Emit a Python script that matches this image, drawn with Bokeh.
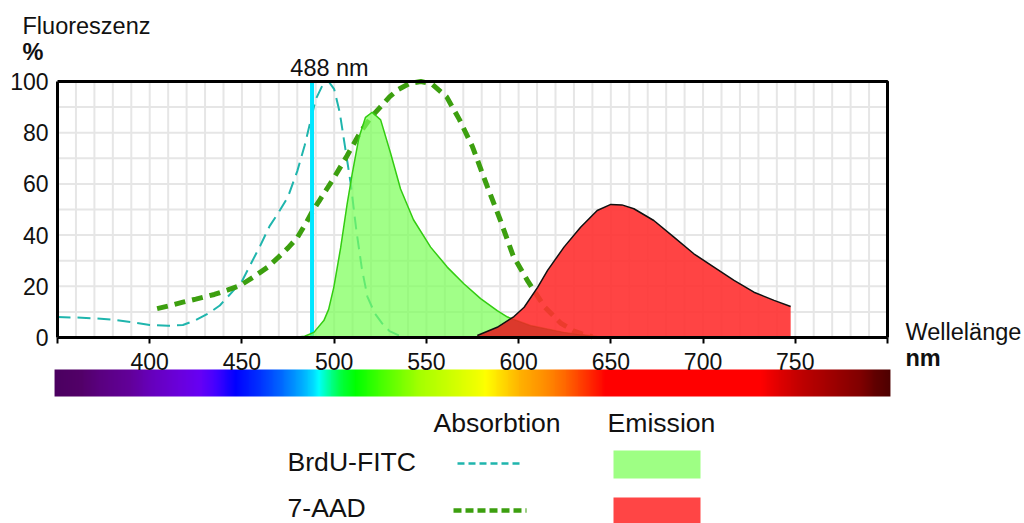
import numpy as np
from bokeh.plotting import figure
from bokeh.models import Range1d, FixedTicker, Label, LinearAxis
from bokeh.core.properties import value
from bokeh.embed import file_html
from bokeh.resources import INLINE

# ---------------- data ----------------
fitc_abs_nm = [350, 360, 370, 380, 390, 400, 410, 418, 425, 432, 438, 445, 450, 455, 460, 465,
               470, 475, 480, 484, 487, 490, 494, 497, 500, 503, 506, 509, 512, 515, 518, 522,
               526, 530, 535, 540]
fitc_abs_val = [8.0, 7.8, 7.5, 7.0, 6.0, 4.9, 4.6, 4.9, 6.8, 9.5, 12.5, 18, 22, 29, 36, 43.5,
                49, 55, 65, 75, 84, 93, 99, 100, 97, 88, 74, 60, 42, 27, 16, 9.5,
                5.5, 2.5, 0.8, 0]

aad_abs_nm = [404, 410, 418, 425, 435, 442, 449, 456, 464, 470, 475, 480, 485, 488, 492, 496,
              500, 507, 514, 520, 525, 530, 535, 541, 547, 553, 561, 568, 575, 583, 590, 597,
              605, 614, 623, 630, 634, 640]
aad_abs_val = [11.3, 12.3, 13.8, 15, 16.8, 18.5, 20.3, 23.5, 27.5, 31.5, 35, 39, 45, 49, 53.5, 58,
               62.5, 71, 80, 86, 90, 94, 97, 99.3, 100, 99, 94, 85, 74.5, 59, 46, 32,
               22, 12, 5.5, 2.5, 1.5, 0.3]

fitc_em_nm = [478, 484, 489, 494.4, 497, 499.8, 503.5, 507, 509.8, 513.4, 517, 520.6, 525.2,
              530.6, 536, 543, 552.3, 561.3, 570.3, 579.4, 588.4, 594, 606.5, 624.5, 642.7, 650]
fitc_em_val = [0, 0.5, 2, 6.6, 11, 19.6, 35, 52, 64, 78, 86, 88, 85,
               72, 58, 46, 35.3, 27.5, 21, 15.2, 10.5, 8, 4.7, 2, 0.4, 0]

aad_em_nm = [577.6, 588.4, 597.5, 603, 610.3, 615.7, 624.6, 633.6, 642.6, 650, 656, 662.5,
             673.3, 684.2, 695, 705.9, 716.8, 727.6, 738.5, 747.5]
aad_em_val = [0.8, 4, 8.2, 11.8, 19.6, 26.2, 35.3, 43.1, 49.6, 52, 51.8, 50.3,
              45.7, 39.2, 32.7, 27.5, 22.3, 17.7, 14.5, 12.1]

laser_nm = 488

x_ticks = [350, 400, 450, 500, 550, 600, 650, 700, 750, 800]
x_tick_labels = ["", "400", "450", "500", "550", "600", "650", "700", "750", ""]
y_ticks = [0, 20, 40, 60, 80, 100]
x_grid = list(range(360, 800, 10))
y_grid = list(range(10, 100, 10))

spec_nm = [348.4, 362.5, 373.3, 389.6, 400.4, 416.7, 427.5, 435.7, 446.5, 460, 470.9, 481.7,
           488.3, 491.5, 496.9, 503.4, 511.6, 525.1, 536, 546.8, 563, 576.6, 582, 590.2,
           601, 614.6, 625.4, 636.3, 647.1, 731.1, 742, 752.8, 769, 785.4, 793.5, 801.6]
spec_col = ["#4b0060", "#520068", "#5a0080", "#62009a", "#6600bb", "#6a00dd", "#6600f5",
            "#4400ff", "#0000ff", "#0033ff", "#0066ff", "#00a6ff", "#00d8ff", "#00ffff",
            "#00ffa0", "#00ff40", "#00ff00", "#44ff00", "#77ff00", "#a6ff00", "#ccff00",
            "#eeff00", "#ffff00", "#ffdd00", "#ffb000", "#ff8c00", "#ff6600", "#ff3300",
            "#ff0000", "#ff0000", "#dd0000", "#c00000", "#a00000", "#800000", "#600000",
            "#4d0000"]

legend_rows = ["BrdU-FITC", "7-AAD"]
legend_cols = ["Absorbtion", "Emission"]

# ---------------- layout constants ----------------
FONT = "Liberation Sans"
W, H = 1024, 523
FL, FR, FT, FB = 57, 887, 81, 337      # pixel box of the plotting area
X0, X1, Y0, Y1 = 350, 800, 0, 100


def dx(px):
    return X0 + (px - FL) * (X1 - X0) / (FR - FL)


def dy(py):
    return Y0 + (FB - py) * (Y1 - Y0) / (FB - FT)


C_FITC_ABS = "#1fb5ad"
C_AAD_ABS = "#3c9f0f"
C_LASER = "#00e6ff"
C_GREEN_FILL = "#7dff5a"
C_GREEN_LINE = "#33cc11"
C_RED_FILL = "#ff3030"
C_TEXT = "#111111"

p = figure(width=W, height=H, x_range=Range1d(dx(0), dx(W)), y_range=Range1d(dy(H), dy(0)),
           output_backend="svg", toolbar_location=None, title=None, min_border=0,
           x_axis_location=None, y_axis_location=None)
p.outline_line_color = None
p.background_fill_color = "white"
p.border_fill_color = "white"
p.grid.visible = False

# axes fixed at the data box edges
xa = LinearAxis(fixed_location=Y0, bounds=(X0, X1), ticker=FixedTicker(ticks=x_ticks))
xa.major_label_overrides = {t: l for t, l in zip(x_ticks, x_tick_labels)}
xa.axis_line_width = 3
xa.major_tick_out = 6
xa.major_tick_in = 0
xa.major_tick_line_width = 2
xa.minor_tick_line_color = None
xa.major_label_standoff = 9
xa.major_label_text_font = FONT
xa.major_label_text_font_size = "23px"
xa.major_label_text_color = C_TEXT
p.add_layout(xa, "below")

ya = LinearAxis(fixed_location=X0, bounds=(Y0, Y1), ticker=FixedTicker(ticks=y_ticks))
ya.axis_line_width = 3
ya.major_tick_out = 0
ya.major_tick_in = 0
ya.minor_tick_line_color = None
ya.major_label_standoff = 9
ya.major_label_text_font = FONT
ya.major_label_text_font_size = "23px"
ya.major_label_text_color = C_TEXT
p.add_layout(ya, "left")

# grid lines inside the data box
p.segment(x0=x_grid, x1=x_grid, y0=[Y0] * len(x_grid), y1=[Y1] * len(x_grid),
          line_color="#e6e6e6", line_width=2)
p.segment(x0=[X0] * len(y_grid), x1=[X1] * len(y_grid), y0=y_grid, y1=y_grid,
          line_color="#e6e6e6", line_width=2)

# absorption curves
p.line(fitc_abs_nm, fitc_abs_val, line_color=C_FITC_ABS, line_width=2, line_dash="13 7")
p.line(aad_abs_nm, aad_abs_val, line_color=C_AAD_ABS, line_width=5, line_dash="11 7")
# laser line
p.line([laser_nm, laser_nm], [Y0, Y1], line_color=C_LASER, line_width=4)

# FITC emission
p.varea(x=fitc_em_nm, y1=[0] * len(fitc_em_nm), y2=fitc_em_val,
        fill_color=C_GREEN_FILL, fill_alpha=0.72)
p.line(fitc_em_nm, fitc_em_val, line_color=C_GREEN_LINE, line_width=1.5)

# 7-AAD emission
p.varea(x=aad_em_nm + [aad_em_nm[-1]], y1=[0] * (len(aad_em_nm) + 1),
        y2=aad_em_val + [0], fill_color=C_RED_FILL, fill_alpha=0.9)
ov_x = np.linspace(aad_em_nm[0], fitc_em_nm[-1], 80)
ov_y = np.minimum(np.interp(ov_x, fitc_em_nm, fitc_em_val), np.interp(ov_x, aad_em_nm, aad_em_val))
p.varea(x=ov_x, y1=np.zeros_like(ov_x), y2=ov_y, fill_color="#a02010", fill_alpha=0.3)
p.line(aad_em_nm, aad_em_val, line_color="#111111", line_width=1.5)

# frame border (top / right)
p.line([X0, X1, X1], [Y1, Y1, Y0], line_color="black", line_width=3)

# texts
txt = dict(text_font=FONT, text_font_size="23.5px", text_color=C_TEXT, text_baseline="middle")
p.add_layout(Label(x=dx(22), y=dy(25), text="Fluoreszenz", **txt))
p.add_layout(Label(x=dx(22), y=dy(51.5), text="%", text_font_style="bold", **txt))
p.add_layout(Label(x=dx(329), y=dy(67), text=f"{laser_nm} nm", text_align="center", **txt))
p.add_layout(Label(x=dx(905), y=dy(331), text="Wellelänge", **txt))
p.add_layout(Label(x=dx(905), y=dy(357), text="nm", text_font_style="bold", **txt))


# spectrum bar (one RGBA image, one column per nm)
def hex2rgb(h):
    return [int(h[i:i + 2], 16) for i in (1, 3, 5)]


rgb = np.array([hex2rgb(c) for c in spec_col], dtype=float)
wl = np.arange(spec_nm[0], spec_nm[-1], 0.5)
img = np.empty((1, len(wl)), dtype=np.uint32)
view = img.view(dtype=np.uint8).reshape((1, len(wl), 4))
for k in range(3):
    view[0, :, k] = np.round(np.interp(wl + 0.25, spec_nm, rgb[:, k])).astype(np.uint8)
view[0, :, 3] = 255
p.image_rgba(image=[img], x=spec_nm[0], y=dy(396), dw=spec_nm[-1] - spec_nm[0],
             dh=dy(369) - dy(396))

# legend table
p.text(x=[dx(433), dx(607), dx(287), dx(287)], y=[dy(422.5), dy(422.5), dy(461), dy(507.5)],
       text=legend_cols + legend_rows,
       text_font=value(FONT), text_font_size=value("26.6px"), text_color=C_TEXT,
       text_baseline="middle")
p.line([dx(457), dx(520)], [dy(463), dy(463)], line_color=C_FITC_ABS, line_width=2.5,
       line_dash="7 4")
p.line([dx(453), dx(526)], [dy(510), dy(510)], line_color=C_AAD_ABS, line_width=4.5,
       line_dash="8 4")
p.quad(left=[dx(613)] * 2, right=[dx(700)] * 2, top=[dy(450), dy(497)],
       bottom=[dy(478), dy(523)], fill_color=["#9eff84", "#ff4545"], line_color=None)

open("out.html", "w").write(file_html(p, INLINE))
